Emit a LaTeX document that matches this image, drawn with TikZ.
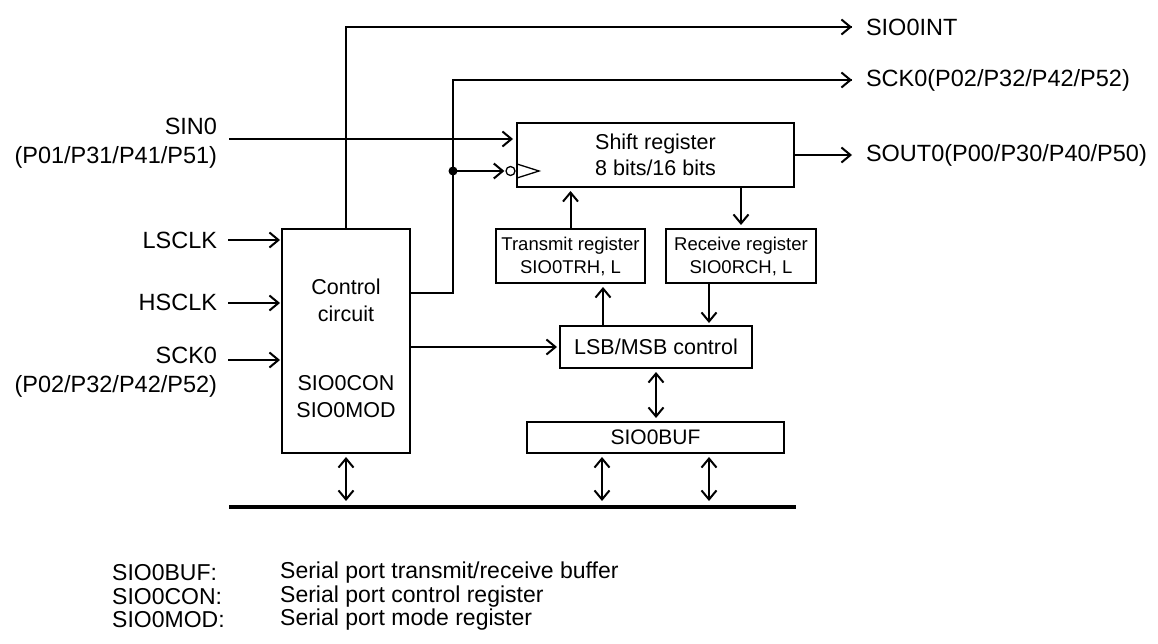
\documentclass[tikz,border=0pt]{standalone}
\usepackage{fontspec}
\setmainfont{Liberation Sans}
\usetikzlibrary{arrows.meta}
\tikzset{
  box/.style={draw, line width=1.3pt, inner sep=0pt, outer sep=0pt},
  lbl/.style={font=\fontsize{23.5}{29}\selectfont, inner sep=0pt, outer sep=0pt},
  btxt/.style={font=\fontsize{21.5}{26.5}\selectfont, align=center},
  stxt/.style={font=\fontsize{18.5}{23}\selectfont, align=center},
  ltxt/.style={font=\fontsize{23}{28}\selectfont, inner sep=0pt, anchor=west},
  wire/.style={line width=1.5pt},
  tip/.tip={Straight Barb[length=9pt,width=15pt,line width=2pt]},
  arr/.style={line width=2pt, -tip, shorten >=4pt},
  dbl/.style={line width=2pt, tip-tip, shorten >=4pt, shorten <=4pt},
}
\begin{document}
\begin{tikzpicture}[x=1pt,y=-1pt]
\useasboundingbox (0,0) rectangle (1158,644);

% boxes
\node[box, btxt, minimum width=277pt, minimum height=64pt] (sr) at (655.5,155) {Shift register\\8 bits/16 bits};
\node[box, stxt, minimum width=149pt, minimum height=54pt] (tr) at (570.5,256) {Transmit register\\SIO0TRH, L};
\node[box, stxt, minimum width=150pt, minimum height=54pt] (rc) at (741,256) {Receive register\\SIO0RCH, L};
\node[box, btxt, minimum width=192pt, minimum height=42pt] (lsb) at (656,347) {LSB/MSB control};
\node[box, btxt, font=\fontsize{21}{26}\selectfont, minimum width=257pt, minimum height=31pt] (buf) at (655.5,437.5) {SIO0BUF};
\node[box, minimum width=128pt, minimum height=224pt] (ctrl) at (346,341) {};
\node[btxt] (ctrlA) at (346,300.5) {Control\\circuit};
\node[btxt] (ctrlB) at (346,396.5) {SIO0CON\\SIO0MOD};

% inverter bubble and clock triangle
\node[draw, circle, line width=1.3pt, minimum size=9pt, inner sep=0pt] (inv) at (510.5,171) {};
\coordinate (t1) at (517,164);
\coordinate (t2) at (539,171);
\coordinate (t3) at (517,178);
\draw[line width=1.3pt] (t1) -- (t2) -- (t3);

% labels right
\node[lbl, anchor=west] (lint) at (866,27) {SIO0INT};
\node[lbl, anchor=west] (lsck) at (866,80) {SCK0(P02/P32/P42/P52)};
\node[lbl, anchor=west] (lsout) at (866,155) {SOUT0(P00/P30/P40/P50)};

% labels left
\node[lbl, align=right, anchor=east] (lsin) at (217,143.5) {SIN0\\(P01/P31/P41/P51)};
\node[lbl, anchor=east] (llsclk) at (217,240) {LSCLK};
\node[lbl, anchor=east] (lhsclk) at (217,302) {HSCLK};
\node[lbl, align=right, anchor=east] (lsck0) at (217,372.5) {SCK0\\(P02/P32/P42/P52)};

% free-end coordinates
\coordinate (sinS) at (229,139);
\coordinate (lsS) at (228,240);
\coordinate (hsS) at (228,303);
\coordinate (skS) at (228,360);
\coordinate (j) at (453,171);
\coordinate (bend) at (453,293);
\coordinate (intE) at (852,27);
\coordinate (sckE) at (852,80);
\coordinate (soutE) at (852,155);
\coordinate (bus1) at (229,507);
\coordinate (bus2) at (796,507);

% outputs
\draw[wire] (ctrl.north) |- (intE);
\draw[arr, shorten >=0pt] (ctrl.north |- intE) -- (intE);
\draw[wire] (bend -| ctrl.east) -- (bend) -- (j) |- (sckE);
\draw[arr, shorten >=0pt] (j |- sckE) -- (sckE);
\fill (j) circle (4.5pt);
\draw[arr, shorten >=1pt] (j) -- (inv.west);
\draw[arr, shorten >=0pt] (sr.east |- soutE) -- (soutE);

% inputs
\draw[arr] (sinS) -- (sinS -| sr.west);
\draw[arr, shorten >=2pt] (lsS) -- (lsS -| ctrl.west);
\draw[arr, shorten >=2pt] (hsS) -- (hsS -| ctrl.west);
\draw[arr, shorten >=2pt] (skS) -- (skS -| ctrl.west);

% internal
\draw[arr, shorten >=3pt] (ctrl.east |- lsb.west) -- (lsb.west);
\draw[arr] (tr.north) -- (sr.south -| tr.north);
\draw[arr] (sr.south -| rc.north) -- (rc.north);
\draw[arr, shorten >=3pt] (rc.south -| 709,0) -- (lsb.north -| 709,0);
\draw[arr] (lsb.north -| 603,0) -- (tr.south -| 603,0);
\draw[dbl] (lsb.south) -- (buf.north -| lsb.south);

% bus
\draw[line width=4pt] (bus1) -- (bus2);
\draw[dbl, shorten >=6pt] (ctrl.south) -- (ctrl.south |- bus1);
\draw[dbl, shorten >=6pt] (buf.south -| 602,0) -- (bus1 -| 602,0);
\draw[dbl, shorten >=6pt] (buf.south -| 709,0) -- (bus1 -| 709,0);

% legend
\node[ltxt] (k1) at (112,573) {SIO0BUF:};
\node[ltxt] (k2) at (112,597) {SIO0CON:};
\node[ltxt] (k3) at (112,620) {SIO0MOD:};
\node[ltxt] (d1) at (280,573) {Serial port transmit/receive buffer};
\node[ltxt] (d2) at (280,597) {Serial port control register};
\node[ltxt] (d3) at (280,620) {Serial port mode register};
\end{tikzpicture}
\end{document}
